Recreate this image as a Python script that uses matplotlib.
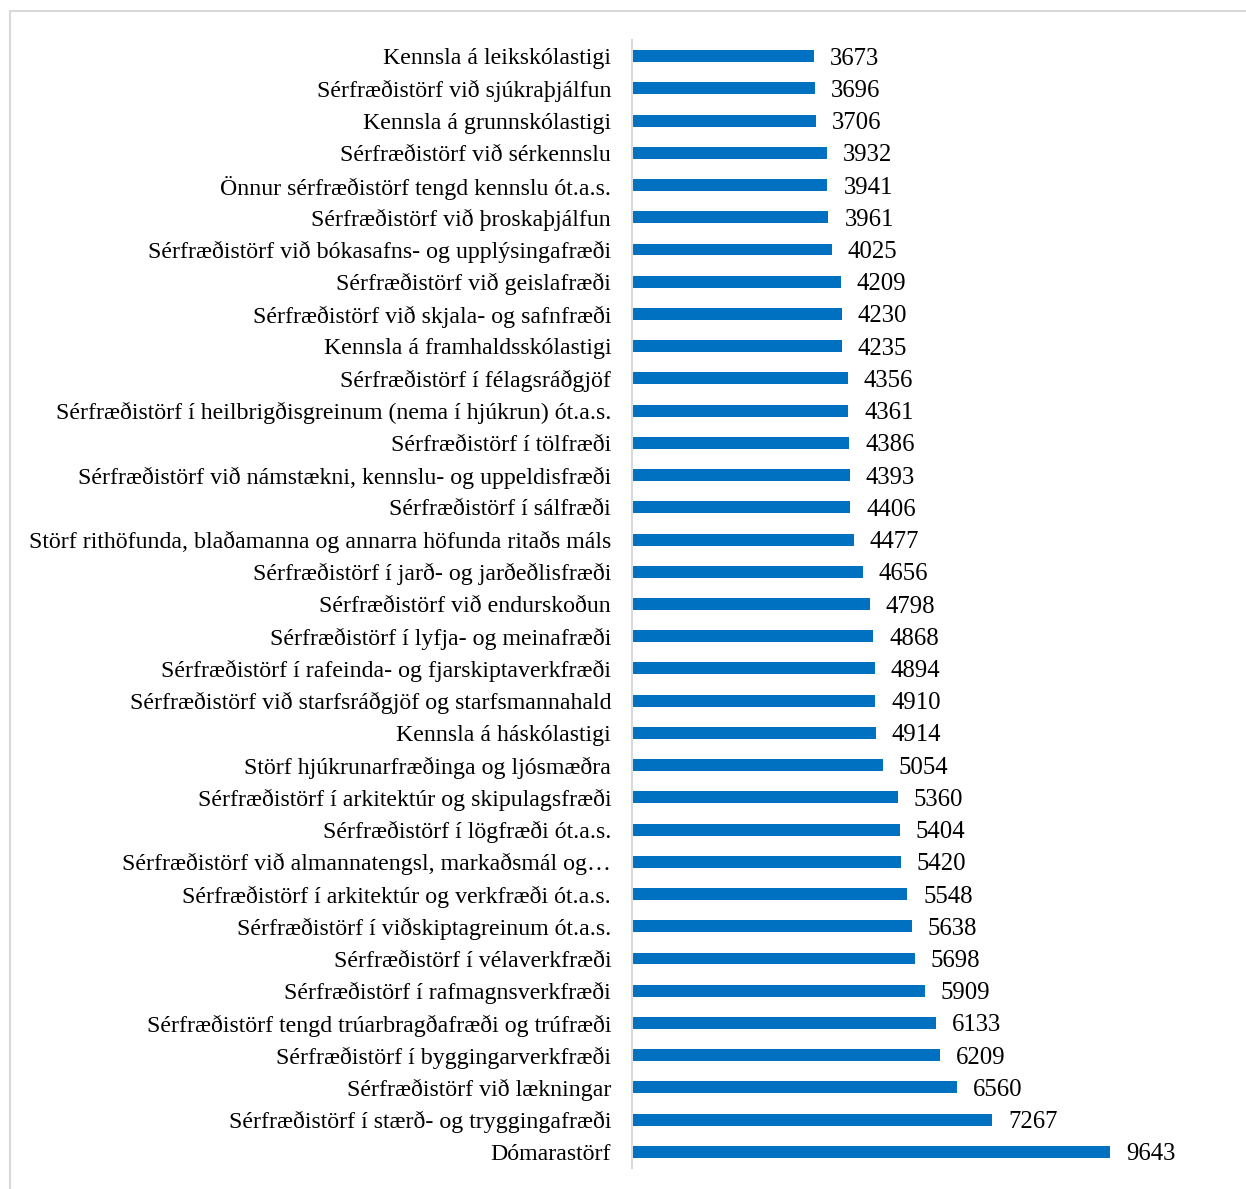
import matplotlib
matplotlib.use("Agg")
import matplotlib.pyplot as plt
from matplotlib.patches import Rectangle

categories = [
    "Kennsla á leikskólastigi",
    "Sérfræðistörf við sjúkraþjálfun",
    "Kennsla á grunnskólastigi",
    "Sérfræðistörf við sérkennslu",
    "Önnur sérfræðistörf tengd kennslu ót.a.s.",
    "Sérfræðistörf við þroskaþjálfun",
    "Sérfræðistörf við bókasafns- og upplýsingafræði",
    "Sérfræðistörf við geislafræði",
    "Sérfræðistörf við skjala- og safnfræði",
    "Kennsla á framhaldsskólastigi",
    "Sérfræðistörf í félagsráðgjöf",
    "Sérfræðistörf í heilbrigðisgreinum (nema í hjúkrun) ót.a.s.",
    "Sérfræðistörf í tölfræði",
    "Sérfræðistörf við námstækni, kennslu- og uppeldisfræði",
    "Sérfræðistörf í sálfræði",
    "Störf rithöfunda, blaðamanna og annarra höfunda ritaðs máls",
    "Sérfræðistörf í jarð- og jarðeðlisfræði",
    "Sérfræðistörf við endurskoðun",
    "Sérfræðistörf í lyfja- og meinafræði",
    "Sérfræðistörf í rafeinda- og fjarskiptaverkfræði",
    "Sérfræðistörf við starfsráðgjöf og starfsmannahald",
    "Kennsla á háskólastigi",
    "Störf hjúkrunarfræðinga og ljósmæðra",
    "Sérfræðistörf í arkitektúr og skipulagsfræði",
    "Sérfræðistörf í lögfræði ót.a.s.",
    "Sérfræðistörf við almannatengsl, markaðsmál og…",
    "Sérfræðistörf í arkitektúr og verkfræði ót.a.s.",
    "Sérfræðistörf í viðskiptagreinum ót.a.s.",
    "Sérfræðistörf í vélaverkfræði",
    "Sérfræðistörf í rafmagnsverkfræði",
    "Sérfræðistörf tengd trúarbragðafræði og trúfræði",
    "Sérfræðistörf í byggingarverkfræði",
    "Sérfræðistörf við lækningar",
    "Sérfræðistörf í stærð- og tryggingafræði",
    "Dómarastörf",
]
values = [3673, 3696, 3706, 3932, 3941, 3961, 4025, 4209, 4230, 4235,
          4356, 4361, 4386, 4393, 4406, 4477, 4656, 4798, 4868, 4894,
          4910, 4914, 5054, 5360, 5404, 5420, 5548, 5638, 5698, 5909,
          6133, 6209, 6560, 7267, 9643]

plt.rcParams['font.family'] = ['Liberation Serif', 'DejaVu Serif']
W, H = 1246, 1189
fig = plt.figure(figsize=(W / 100, H / 100), dpi=100)
ax = fig.add_axes([632 / W, 1 - 1168 / H, (1227 - 632) / W, (1168 - 40) / H])

ypos = list(range(len(categories)))
ax.barh(ypos, values, height=0.37, color="#0070C0")
ax.set_ylim(len(categories) - 0.5, -0.5)
ax.set_xlim(0, 12000)
ax.set_yticks(ypos)
ax.set_yticklabels(categories, fontsize=17.2, color="#000000",
                   va="center_baseline")
ax.tick_params(axis='y', length=0, pad=15)
ax.set_xticks([])
for s in ["top", "right", "bottom"]:
    ax.spines[s].set_visible(False)
ax.spines["left"].set_color("#d9d9d9")
ax.spines["left"].set_linewidth(1.5)

for y, v in zip(ypos, values):
    ax.annotate(str(v), (v, y), xytext=(16, 0), textcoords="offset pixels",
                va="center_baseline", ha="left", fontsize=17.8, color="#000000")

fig.patches.append(Rectangle((9.5 / W, -0.05), 1.1, 1 - 11 / H + 0.05,
                             transform=fig.transFigure, fill=False,
                             edgecolor="#d9d9d9", linewidth=1.5))
fig.savefig("out.png", dpi=100)
